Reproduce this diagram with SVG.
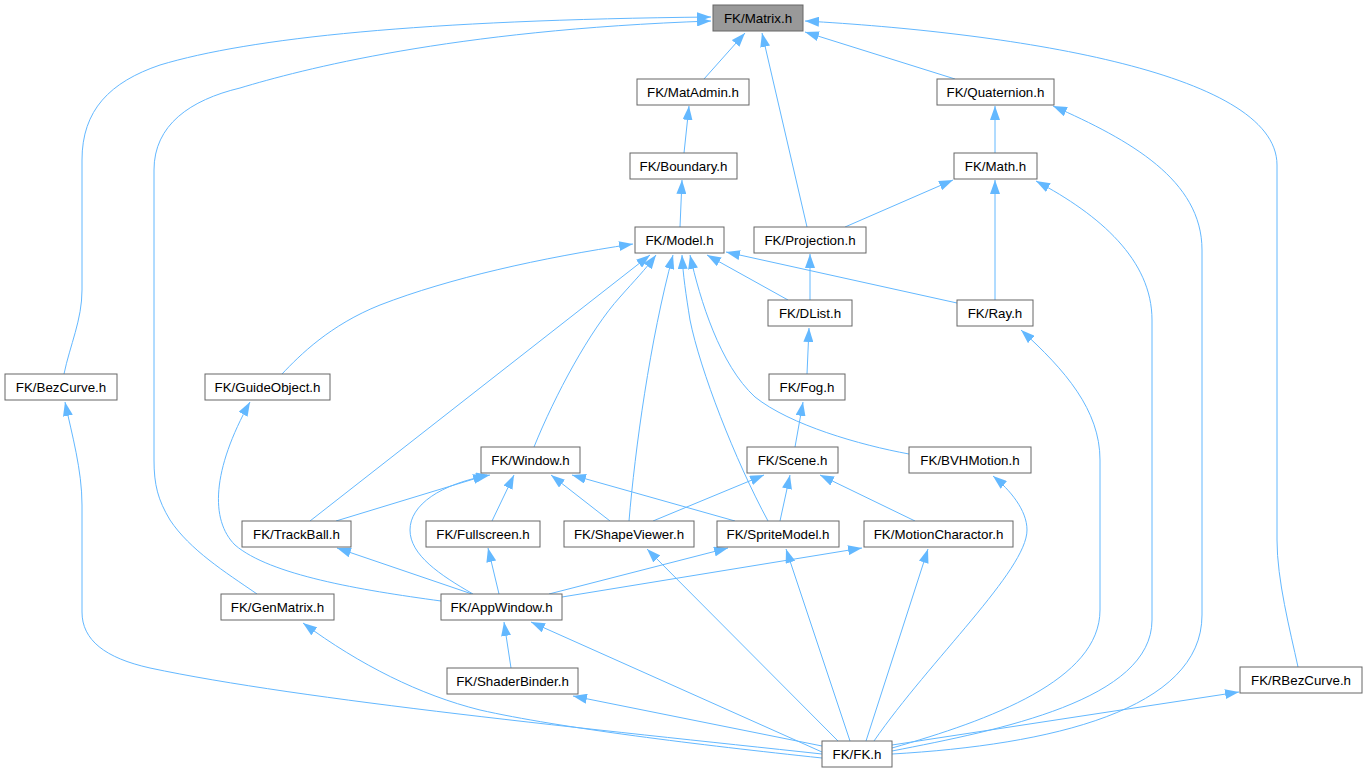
<svg xmlns="http://www.w3.org/2000/svg" width="1367" height="773" viewBox="0 0 1367 773">
<style>
.n rect{fill:#ffffff;stroke:#666666;stroke-width:1}
.n text{font-family:"Liberation Sans",Arial,sans-serif;font-size:13.33px;fill:#000000;text-anchor:middle}
#edges path{fill:none;stroke:#63b8ff;stroke-width:1;marker-end:url(#ah)}
</style>
<defs>
<marker id="ah" markerUnits="userSpaceOnUse" markerWidth="14" markerHeight="10" refX="14" refY="5" orient="auto">
<path d="M0,0 L14,5 L0,10 z" fill="#63b8ff"/>
</marker>
</defs>
<rect width="1367" height="773" fill="#ffffff"/>
<g id="edges">
<path d="M704,79 L745,33"/>
<path d="M807,227 L762,33"/>
<path d="M955,79 L805,32"/>
<path d="M64,374 C70,345 82,320 82,290 L82,160 C82,110 110,82 160,65 C250,38 420,20 711,17"/>
<path d="M257,594 C225,572 190,550 170,520 C158,500 154,485 154,460 L154,170 C154,125 190,100 240,88 C300,70 450,30 711,21"/>
<path d="M1298,667 C1290,630 1277,580 1277,540 L1277,165 C1277,70 1000,32 805,21"/>
<path d="M684,153 L689,106"/>
<path d="M680,227 L682,180"/>
<path d="M810,300 L810,254"/>
<path d="M788,300 L707,255"/>
<path d="M957,303 L726,252"/>
<path d="M995,300 L995,180"/>
<path d="M845,227 L953,180"/>
<path d="M995,153 L995,106"/>
<path d="M807,374 L809,328"/>
<path d="M795,447 L803,402"/>
<path d="M909,454 C860,445 790,425 755,397 C720,365 700,300 690,255"/>
<path d="M282,374 C300,355 330,325 380,305 C450,278 540,258 633,244"/>
<path d="M310,521 L650,255"/>
<path d="M534,447 C555,395 590,330 620,297 C635,280 645,270 656,255"/>
<path d="M629,521 C635,450 650,340 673,255"/>
<path d="M768,521 C735,460 700,370 690,320 C686,295 683,275 682,255"/>
<path d="M336,521 L487,475"/>
<path d="M473,594 C440,575 410,555 410,530 C410,505 440,484 490,475"/>
<path d="M492,521 L514,475"/>
<path d="M610,521 L551,475"/>
<path d="M735,521 L572,475"/>
<path d="M653,521 L764,475"/>
<path d="M780,521 L790,475"/>
<path d="M915,521 L820,475"/>
<path d="M441,601 C360,590 270,575 235,545 C210,520 212,470 250,402"/>
<path d="M472,594 L337,548"/>
<path d="M499,594 L488,548"/>
<path d="M549,594 L728,548"/>
<path d="M562,597 L862,548"/>
<path d="M511,668 L504,622"/>
<path d="M822,754 C600,730 300,700 150,668 C105,658 82,640 82,612 L82,505 C82,470 72,435 65,402"/>
<path d="M822,758 C700,745 560,728 480,710 C420,695 360,665 303,623"/>
<path d="M822,752 L531,622"/>
<path d="M822,746 L573,696"/>
<path d="M838,741 L647,549"/>
<path d="M850,741 L786,549"/>
<path d="M866,741 L928,549"/>
<path d="M874,741 C930,660 1027,570 1027,530 C1027,510 1010,490 993,476"/>
<path d="M892,748 C990,720 1100,680 1100,610 L1100,460 C1100,410 1065,370 1021,330"/>
<path d="M892,751 C1000,730 1152,700 1152,620 L1152,320 C1152,260 1100,215 1036,181"/>
<path d="M892,754 C1050,745 1202,710 1202,615 L1202,250 C1202,180 1130,140 1053,106"/>
<path d="M892,745 L1239,692"/>
</g>
<g id="matrix" class="n"><rect x="713" y="5" width="90" height="26" style="fill:#999999"/><text x="758" y="22.5">FK/Matrix.h</text></g>
<g id="matadmin" class="n"><rect x="637" y="79" width="112" height="26"/><text x="693" y="96.5">FK/MatAdmin.h</text></g>
<g id="quaternion" class="n"><rect x="937" y="79" width="117" height="26"/><text x="995.5" y="96.5">FK/Quaternion.h</text></g>
<g id="boundary" class="n"><rect x="630" y="153" width="107" height="26"/><text x="683.5" y="170.5">FK/Boundary.h</text></g>
<g id="math" class="n"><rect x="954" y="153" width="83" height="26"/><text x="995.5" y="170.5">FK/Math.h</text></g>
<g id="model" class="n"><rect x="635" y="227" width="89" height="26"/><text x="679.5" y="244.5">FK/Model.h</text></g>
<g id="projection" class="n"><rect x="754" y="227" width="112" height="26"/><text x="810" y="244.5">FK/Projection.h</text></g>
<g id="dlist" class="n"><rect x="768" y="300" width="84" height="26"/><text x="810" y="317.5">FK/DList.h</text></g>
<g id="ray" class="n"><rect x="957" y="300" width="76" height="26"/><text x="995" y="317.5">FK/Ray.h</text></g>
<g id="bezcurve" class="n"><rect x="5" y="374" width="112" height="26"/><text x="61" y="391.5">FK/BezCurve.h</text></g>
<g id="guideobject" class="n"><rect x="205" y="374" width="125" height="26"/><text x="267.5" y="391.5">FK/GuideObject.h</text></g>
<g id="fog" class="n"><rect x="769" y="374" width="76" height="26"/><text x="807" y="391.5">FK/Fog.h</text></g>
<g id="window" class="n"><rect x="481" y="447" width="99" height="26"/><text x="530.5" y="464.5">FK/Window.h</text></g>
<g id="scene" class="n"><rect x="747" y="447" width="91" height="26"/><text x="792.5" y="464.5">FK/Scene.h</text></g>
<g id="bvhmotion" class="n"><rect x="909" y="447" width="122" height="26"/><text x="970" y="464.5">FK/BVHMotion.h</text></g>
<g id="trackball" class="n"><rect x="242" y="521" width="109" height="26"/><text x="296.5" y="538.5">FK/TrackBall.h</text></g>
<g id="fullscreen" class="n"><rect x="426" y="521" width="114" height="26"/><text x="483" y="538.5">FK/Fullscreen.h</text></g>
<g id="shapeviewer" class="n"><rect x="564" y="521" width="130" height="26"/><text x="629" y="538.5">FK/ShapeViewer.h</text></g>
<g id="spritemodel" class="n"><rect x="717" y="521" width="122" height="26"/><text x="778" y="538.5">FK/SpriteModel.h</text></g>
<g id="motioncharactor" class="n"><rect x="864" y="521" width="149" height="26"/><text x="938.5" y="538.5">FK/MotionCharactor.h</text></g>
<g id="genmatrix" class="n"><rect x="221" y="594" width="113" height="26"/><text x="277.5" y="611.5">FK/GenMatrix.h</text></g>
<g id="appwindow" class="n"><rect x="441" y="594" width="121" height="26"/><text x="501.5" y="611.5">FK/AppWindow.h</text></g>
<g id="shaderbinder" class="n"><rect x="447" y="668" width="131" height="26"/><text x="512.5" y="685.5">FK/ShaderBinder.h</text></g>
<g id="rbezcurve" class="n"><rect x="1240" y="667" width="122" height="26"/><text x="1301" y="684.5">FK/RBezCurve.h</text></g>
<g id="fk" class="n"><rect x="822" y="741" width="70" height="26"/><text x="857" y="758.5">FK/FK.h</text></g>
</svg>
